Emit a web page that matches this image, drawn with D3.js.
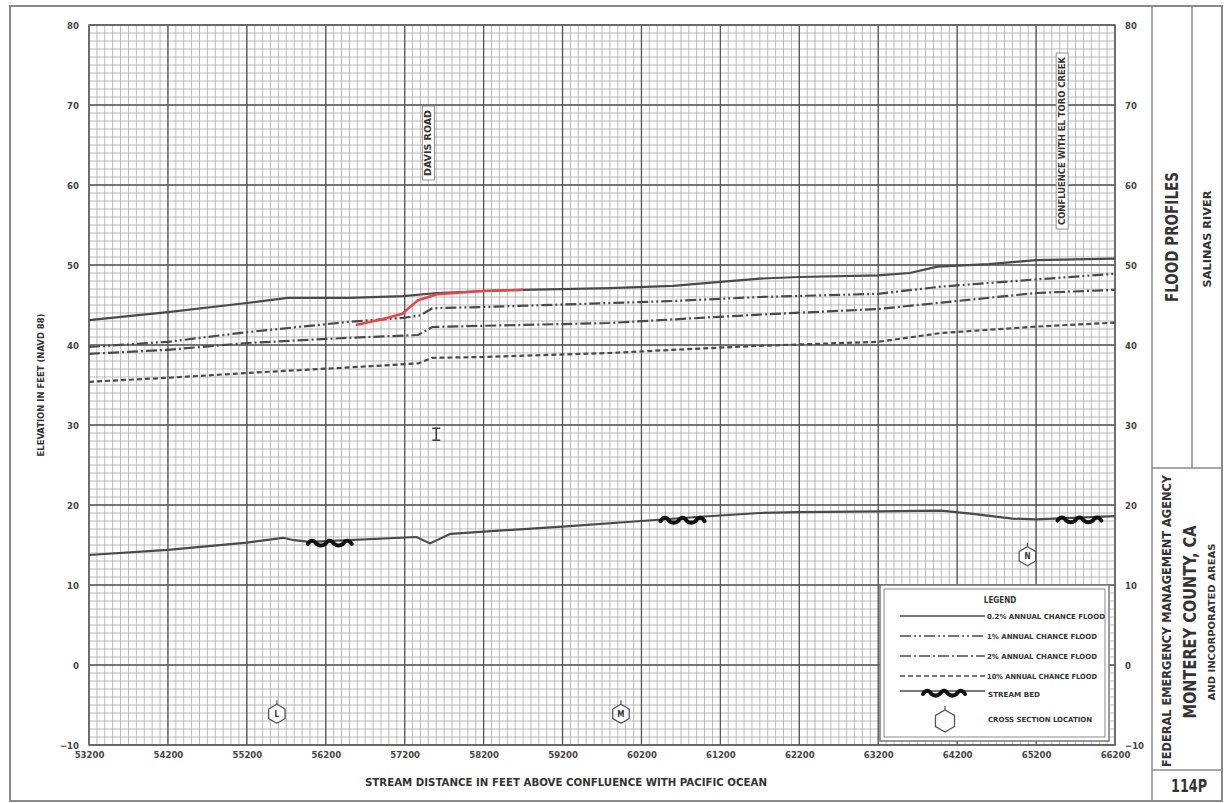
<!DOCTYPE html>
<html>
<head>
<meta charset="utf-8">
<script src="https://cdn.jsdelivr.net/npm/d3@7"></script>
<style>
  body { margin: 0; background: #fff; }
  text { font-family: "Liberation Sans Narrow", "DejaVu Sans Condensed", "Arial Narrow", sans-serif; font-weight: bold; fill: #333; }
</style>
</head>
<body>
<div id="chart"></div>
<script>
// tick labels
const xTicks = [53200, 54200, 55200, 56200, 57200, 58200, 59200, 60200, 61200, 62200, 63200, 64200, 65200, 66200];
const yTicks = [-10, 0, 10, 20, 30, 40, 50, 60, 70, 80];

// profiles: [stream distance (ft), elevation (ft)]
const flood02 = [[53200, 43.1], [54200, 44.1], [55200, 45.25], [55720, 45.9], [56500, 45.9], [57180, 46.1], [57610, 46.5],
    [58200, 46.75], [58700, 46.9], [59800, 47.1], [60600, 47.4], [61200, 47.9], [61700, 48.3], [62200, 48.5],
    [63200, 48.7], [63600, 49.0], [63950, 49.8], [64600, 50.1], [65200, 50.6], [66200, 50.8]];
const flood1 = [[53200, 39.75], [54200, 40.4], [55200, 41.6], [56500, 42.9], [57180, 43.4], [57400, 43.7], [57550, 44.6],
    [58200, 44.75], [59800, 45.25], [60600, 45.5], [61700, 46.0], [63200, 46.4], [64000, 47.3], [65200, 48.2], [66200, 48.9]];
const flood2 = [[53200, 38.9], [54200, 39.4], [55200, 40.25], [56500, 40.9], [57370, 41.25], [57550, 42.25], [58200, 42.4],
    [59800, 42.75], [60600, 43.2], [61700, 43.8], [63200, 44.5], [64000, 45.3], [65200, 46.5], [66200, 46.9]];
const flood10 = [[53200, 35.4], [54200, 35.9], [55200, 36.5], [56500, 37.2], [57370, 37.7], [57550, 38.4], [58200, 38.5],
    [59800, 39.0], [60600, 39.4], [61700, 39.9], [63200, 40.4], [64000, 41.5], [65200, 42.3], [66200, 42.8]];
const streamBed = [[53200, 13.75], [54200, 14.4], [55200, 15.3], [55660, 15.9], [55800, 15.6], [56000, 15.4], [57350, 16.0],
    [57520, 15.2], [57780, 16.4], [59200, 17.3], [60200, 18.0], [60900, 18.5], [61700, 19.0], [62200, 19.1],
    [63200, 19.2], [64000, 19.3], [64400, 18.9], [64900, 18.3], [65200, 18.2], [66200, 18.6]];
const revisedProfile = [[56580, 42.5], [56900, 43.2], [57170, 43.9], [57260, 44.7], [57370, 45.6], [57610, 46.35],
    [58200, 46.75], [58700, 46.9]];

// markers
const bedSymbolDist = [56250, 60720, 65750];
const crossSectionIds = ["L", "M", "N"];
const crossSectionDist = [55580, 59940, 65090];
const crossSectionElev = [-6.1, -6.1, 13.6];
const roadNames = ["DAVIS ROAD", "CONFLUENCE WITH EL TORO CREEK"];
const roadDist = [57500, 65530];

const legendLabels = ["0.2% ANNUAL CHANCE FLOOD", "1% ANNUAL CHANCE FLOOD", "2% ANNUAL CHANCE FLOOD", "10% ANNUAL CHANCE FLOOD"];
const lineStyles = [null, "11,3,2,3,2,3", "11,3,2,3", "5,3"];

const W = 1225, H = 803;
const plot = { left: 89, right: 1115, top: 25, bottom: 745 };

const svg = d3.select("#chart").append("svg")
    .attr("width", W)
    .attr("height", H);

const x = d3.scaleLinear().domain([53200, 66200]).range([plot.left, plot.right]);
const y = d3.scaleLinear().domain([-10, 80]).range([plot.bottom, plot.top]);

// graph paper grid
const minorX = d3.range(53200, 66201, 100);
const minorY = d3.range(-10, 80.01, 1);
const grid = svg.append("g");
grid.selectAll(".mx").data(minorX).enter().append("line")
    .attr("x1", d => x(d)).attr("x2", d => x(d))
    .attr("y1", plot.top).attr("y2", plot.bottom)
    .attr("stroke", "#a9a9a9").attr("stroke-width", 0.8);
grid.selectAll(".my").data(minorY).enter().append("line")
    .attr("y1", d => y(d)).attr("y2", d => y(d))
    .attr("x1", plot.left).attr("x2", plot.right)
    .attr("stroke", "#a9a9a9").attr("stroke-width", 0.8);
grid.selectAll(".Mx").data(xTicks).enter().append("line")
    .attr("x1", d => x(d)).attr("x2", d => x(d))
    .attr("y1", plot.top).attr("y2", plot.bottom)
    .attr("stroke", "#555").attr("stroke-width", 1.3);
grid.selectAll(".My").data(yTicks).enter().append("line")
    .attr("y1", d => y(d)).attr("y2", d => y(d))
    .attr("x1", plot.left).attr("x2", plot.right)
    .attr("stroke", "#555").attr("stroke-width", 1.3);
svg.append("rect")
    .attr("x", plot.left).attr("y", plot.top)
    .attr("width", plot.right - plot.left).attr("height", plot.bottom - plot.top)
    .attr("fill", "none").attr("stroke", "#666").attr("stroke-width", 1.5);

// axes (labels only, the grid does the ticks)
svg.append("g")
    .attr("transform", `translate(0,${plot.bottom + 2})`)
    .call(d3.axisBottom(x).tickValues(xTicks).tickFormat(d3.format("d")).tickSize(0).tickPadding(4))
    .call(g => g.select(".domain").remove())
    .selectAll("text").style("font-size", "9.5px").style("fill", "#444");
svg.append("g")
    .attr("transform", `translate(${plot.left - 10},0)`)
    .call(d3.axisLeft(y).tickValues(yTicks).tickSize(0).tickPadding(0))
    .call(g => g.select(".domain").remove())
    .selectAll("text").style("font-size", "9.5px").style("fill", "#444");
svg.append("g")
    .attr("transform", `translate(${plot.right + 10},0)`)
    .call(d3.axisRight(y).tickValues(yTicks).tickSize(0).tickPadding(0))
    .call(g => g.select(".domain").remove())
    .selectAll("text").style("font-size", "9.5px").style("fill", "#444");

svg.append("text")
    .attr("x", 566).attr("y", 786)
    .attr("text-anchor", "middle")
    .attr("textLength", 402).attr("lengthAdjust", "spacingAndGlyphs")
    .style("font-size", "10px")
    .text("STREAM DISTANCE IN FEET ABOVE CONFLUENCE WITH PACIFIC OCEAN");
svg.append("text")
    .attr("transform", `translate(44,${y(35)}) rotate(-90)`)
    .attr("text-anchor", "middle")
    .attr("textLength", 143).attr("lengthAdjust", "spacingAndGlyphs")
    .style("font-size", "9px")
    .text("ELEVATION IN FEET (NAVD 88)");

// profile lines
const line = d3.line().x(d => x(d[0])).y(d => y(d[1]));
const profiles = [flood02, flood1, flood2, flood10];
profiles.forEach((p, i) => {
    svg.append("path")
        .datum(p)
        .attr("d", line)
        .attr("fill", "none")
        .attr("stroke", "#4a4a4a")
        .attr("stroke-width", 2.2)
        .attr("stroke-dasharray", lineStyles[i]);
});
svg.append("path")
    .datum(streamBed)
    .attr("d", line)
    .attr("fill", "none")
    .attr("stroke", "#4a4a4a")
    .attr("stroke-width", 2.2);
svg.append("path")
    .datum(revisedProfile)
    .attr("d", line)
    .attr("fill", "none")
    .attr("stroke", "#e8464b")
    .attr("stroke-width", 2.6)
    .attr("stroke-linejoin", "round");

// stream bed wavy symbol
function bedPath(cx, cy, w) {
    const humps = 5, hw = w / humps;
    let p = `M${cx - w / 2},${cy}`;
    for (let i = 0; i < humps; i++) {
        const x0 = cx - w / 2 + i * hw;
        const dir = i % 2 === 0 ? -4 : 2;
        p += ` Q${x0 + hw / 2},${cy + dir * 1.6} ${x0 + hw},${cy}`;
    }
    return p;
}
const bedInterp = d => {
    const i = d3.bisector(p => p[0]).left(streamBed, d);
    const a = streamBed[i - 1], b = streamBed[i];
    return a[1] + (b[1] - a[1]) * (d - a[0]) / (b[0] - a[0]);
};
bedSymbolDist.forEach(d => {
    svg.append("path")
        .attr("d", bedPath(x(d), y(bedInterp(d)) + 3, 44))
        .attr("fill", "none")
        .attr("stroke", "#111")
        .attr("stroke-width", 4)
        .attr("stroke-linecap", "round");
});

// hexagon cross-section marker
function hexagon(g, cx, cy, r, label) {
    const pts = d3.range(6).map(k => {
        const a = Math.PI / 6 + k * Math.PI / 3;
        return [cx + r * Math.cos(a), cy + r * Math.sin(a)];
    });
    g.append("polygon")
        .attr("points", pts.map(p => p.join(",")).join(" "))
        .attr("fill", "#fff").attr("stroke", "#555").attr("stroke-width", 1.3);
    g.append("line")
        .attr("x1", cx).attr("x2", cx).attr("y1", cy - r).attr("y2", cy - r - 4)
        .attr("stroke", "#555").attr("stroke-width", 1.2);
    if (label) {
        g.append("text")
            .attr("x", cx).attr("y", cy + 3)
            .attr("text-anchor", "middle")
            .style("font-size", "8px")
            .text(label);
    }
}
crossSectionIds.forEach((id, i) => {
    hexagon(svg, x(crossSectionDist[i]), y(crossSectionElev[i]), 9.5, id);
});

// bridge / structure marker near Davis Road
const ib = svg.append("g").attr("stroke", "#333").attr("stroke-width", 1.4);
ib.append("line").attr("x1", x(57600)).attr("x2", x(57600)).attr("y1", y(29.6)).attr("y2", y(28.1));
ib.append("line").attr("x1", x(57600) - 4).attr("x2", x(57600) + 4).attr("y1", y(29.6)).attr("y2", y(29.6));
ib.append("line").attr("x1", x(57600) - 4).attr("x2", x(57600) + 4).attr("y1", y(28.1)).attr("y2", y(28.1));

// road / confluence labels
const roadLens = [66, 168];
roadNames.forEach((name, i) => {
    const cx = x(roadDist[i]);
    const len = roadLens[i];
    const cy = i === 0 ? 143 : 141;
    svg.append("rect")
        .attr("x", cx - 6).attr("y", cy - len / 2 - 4)
        .attr("width", 12).attr("height", len + 8)
        .attr("fill", "#fff").attr("stroke", "#777").attr("stroke-width", 0.8);
    svg.append("text")
        .attr("transform", `translate(${cx + 3},${cy}) rotate(-90)`)
        .attr("text-anchor", "middle")
        .attr("textLength", len).attr("lengthAdjust", "spacingAndGlyphs")
        .style("font-size", "8px")
        .text(name);
});

// legend
const lg = svg.append("g");
lg.append("rect").attr("x", 880).attr("y", 585).attr("width", 229).attr("height", 156)
    .attr("fill", "#fff").attr("stroke", "#777").attr("stroke-width", 1.5);
lg.append("rect").attr("x", 884).attr("y", 589).attr("width", 221).attr("height", 148)
    .attr("fill", "#fff").attr("stroke", "#888").attr("stroke-width", 1);
lg.append("text").attr("x", 1000).attr("y", 603).attr("text-anchor", "middle")
    .style("font-size", "8px").text("LEGEND");
const rowY = [616, 636, 656, 676];
legendLabels.forEach((lab, i) => {
    lg.append("line").attr("x1", 900).attr("x2", 985).attr("y1", rowY[i]).attr("y2", rowY[i])
        .attr("stroke", "#4a4a4a").attr("stroke-width", 1.6)
        .attr("stroke-dasharray", lineStyles[i]);
    lg.append("text").attr("x", 987).attr("y", rowY[i] + 2.5)
        .attr("textLength", i === 0 ? 118 : 110).attr("lengthAdjust", "spacingAndGlyphs")
        .style("font-size", "7px").text(lab);
});
lg.append("line").attr("x1", 900).attr("x2", 985).attr("y1", 691).attr("y2", 691)
    .attr("stroke", "#4a4a4a").attr("stroke-width", 1.6);
lg.append("path").attr("d", bedPath(944, 694, 42))
    .attr("fill", "none").attr("stroke", "#111").attr("stroke-width", 4).attr("stroke-linecap", "round");
lg.append("text").attr("x", 988).attr("y", 697)
    .attr("textLength", 52).attr("lengthAdjust", "spacingAndGlyphs")
    .style("font-size", "7px").text("STREAM BED");
hexagon(lg, 945, 721, 11, null);
lg.append("text").attr("x", 988).attr("y", 722)
    .attr("textLength", 104).attr("lengthAdjust", "spacingAndGlyphs")
    .style("font-size", "7px").text("CROSS SECTION LOCATION");

// page frame and title block
const frame = svg.append("g").attr("stroke", "#8a8a8a").attr("fill", "none");
frame.append("rect").attr("x", 10).attr("y", 6).attr("width", 1212).attr("height", 795).attr("stroke-width", 2);
frame.append("line").attr("x1", 1152).attr("x2", 1152).attr("y1", 6).attr("y2", 801).attr("stroke-width", 1.5);
frame.append("line").attr("x1", 1192).attr("x2", 1192).attr("y1", 6).attr("y2", 468).attr("stroke-width", 1.5);
frame.append("line").attr("x1", 1152).attr("x2", 1222).attr("y1", 468).attr("y2", 468).attr("stroke-width", 1.5);
frame.append("line").attr("x1", 1152).attr("x2", 1222).attr("y1", 770).attr("y2", 770).attr("stroke-width", 1.5);

function vText(cx, cy, len, size, str) {
    svg.append("text")
        .attr("transform", `translate(${cx},${cy}) rotate(-90)`)
        .attr("text-anchor", "middle")
        .attr("textLength", len).attr("lengthAdjust", "spacingAndGlyphs")
        .style("font-size", size + "px")
        .text(str);
}
vText(1178, 237, 130, 17, "FLOOD PROFILES");
vText(1211, 239, 97, 11, "SALINAS RIVER");
vText(1171, 621, 292, 13, "FEDERAL EMERGENCY MANAGEMENT AGENCY");
vText(1196, 622, 193, 18, "MONTEREY COUNTY, CA");
vText(1215, 622, 157, 9.5, "AND INCORPORATED AREAS");
svg.append("text").attr("x", 1189).attr("y", 792).attr("text-anchor", "middle")
    .attr("textLength", 36).attr("lengthAdjust", "spacingAndGlyphs")
    .style("font-size", "17px").text("114P");
</script>
</body>
</html>
